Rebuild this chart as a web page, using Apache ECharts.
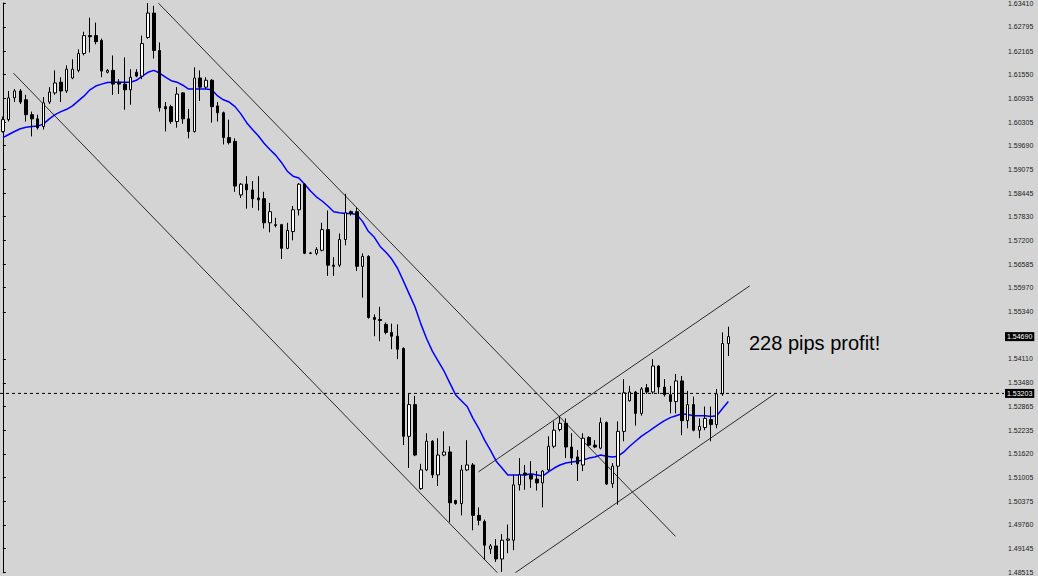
<!DOCTYPE html>
<html><head><meta charset="utf-8">
<script src="https://cdn.jsdelivr.net/npm/echarts@6/dist/echarts.min.js"></script>
<style>html,body{margin:0;padding:0;background:#d4d4d4}#c{width:1038px;height:576px}</style>
</head><body><div id="c"></div><script>
const opens=[1.6006,1.6037,1.6094,1.6112,1.6089,1.6050,1.6039,1.6019,1.6083,1.6107,
1.6135,1.6112,1.6146,1.6166,1.6210,1.6257,1.6257,1.6244,1.6161,1.6166,
1.6135,1.6130,1.6115,1.6161,1.6151,1.6252,1.6316,1.6218,1.6071,1.6071,
1.6032,1.6107,1.6039,1.6006,1.6146,1.6122,1.6140,1.6073,1.6055,1.5990,
1.5980,1.5840,1.5868,1.5853,1.5832,1.5830,1.5767,1.5762,1.5762,1.5700,
1.5744,1.5801,1.5868,1.5687,1.5687,1.5695,1.5749,1.5656,1.5656,1.5723,
1.5796,1.5796,1.5653,1.5679,1.5519,1.5514,1.5501,1.5480,1.5470,1.5438,
1.5208,1.5291,1.5071,1.5120,1.5195,1.5107,1.5159,1.5167,1.5040,1.5032,
1.5120,1.5133,1.5001,1.4985,1.4913,1.4921,1.4887,1.4936,1.4936,1.5081,
1.5112,1.5107,1.5096,1.5086,1.5120,1.5182,1.5226,1.5242,1.5180,1.5154,
1.5133,1.5205,1.5185,1.5177,1.5244,1.5084,1.5130,1.5221,1.5301,1.5324,
1.5268,1.5335,1.5324,1.5392,1.5337,1.5317,1.5299,1.5353,1.5249,1.5291,
1.5224,1.5231,1.5252,1.5239,1.5319,1.5451];
const closes=[1.6037,1.6094,1.6112,1.6083,1.6050,1.6039,1.6016,1.6081,1.6109,1.6133,
1.6112,1.6169,1.6169,1.6210,1.6257,1.6254,1.6241,1.6164,1.6166,1.6130,
1.6130,1.6115,1.6148,1.6151,1.6236,1.6316,1.6218,1.6068,1.6065,1.6032,
1.6104,1.6039,1.6006,1.6146,1.6122,1.6140,1.6071,1.6055,1.5990,1.5977,
1.5863,1.5868,1.5853,1.5830,1.5827,1.5767,1.5796,1.5760,1.5700,1.5747,
1.5801,1.5868,1.5687,1.5688,1.5697,1.5749,1.5656,1.5653,1.5723,1.5793,
1.5791,1.5653,1.5679,1.5519,1.5514,1.5511,1.5480,1.5470,1.5436,1.5208,
1.5291,1.5159,1.5120,1.5195,1.5107,1.5159,1.5167,1.5034,1.5032,1.5120,
1.5133,1.5001,1.4988,1.4923,1.4921,1.4887,1.4936,1.4939,1.5081,1.5107,
1.5107,1.5096,1.5086,1.5117,1.5182,1.5224,1.5242,1.5180,1.5151,1.5136,
1.5203,1.5185,1.5180,1.5244,1.5083,1.5130,1.5221,1.5322,1.5324,1.5268,
1.5332,1.5324,1.5392,1.5337,1.5317,1.5299,1.5353,1.5249,1.5291,1.5224,
1.5234,1.5255,1.5239,1.5319,1.5451,1.5469];
const highs=[1.6045,1.6112,1.6117,1.6117,1.6102,1.6058,1.6050,1.6096,1.6122,1.6166,
1.6148,1.6179,1.6195,1.6221,1.6267,1.6304,1.6291,1.6249,1.6169,1.6205,
1.6143,1.6200,1.6169,1.6169,1.6257,1.6342,1.6335,1.6239,1.6083,1.6076,
1.6122,1.6109,1.6065,1.6174,1.6166,1.6148,1.6143,1.6083,1.6058,1.6037,
1.5988,1.5871,1.5889,1.5876,1.5889,1.5848,1.5819,1.5780,1.5764,1.5767,
1.5811,1.5871,1.5871,1.5690,1.5703,1.5767,1.5799,1.5677,1.5739,1.5843,
1.5799,1.5806,1.5687,1.5682,1.5527,1.5547,1.5506,1.5503,1.5501,1.5441,
1.5319,1.5314,1.5136,1.5216,1.5198,1.5203,1.5221,1.5182,1.5042,1.5133,
1.5198,1.5138,1.5022,1.4990,1.4926,1.4939,1.4952,1.4977,1.5107,1.5151,
1.5133,1.5143,1.5117,1.5120,1.5208,1.5247,1.5260,1.5255,1.5216,1.5172,
1.5216,1.5208,1.5198,1.5257,1.5247,1.5138,1.5247,1.5358,1.5340,1.5327,
1.5337,1.5345,1.5410,1.5394,1.5358,1.5340,1.5371,1.5366,1.5327,1.5312,
1.5255,1.5286,1.5286,1.5332,1.5480,1.5495];
const lows=[1.6003,1.6032,1.6083,1.6078,1.6032,1.5993,1.6011,1.6011,1.6078,1.6102,
1.6083,1.6107,1.6143,1.6161,1.6205,1.6213,1.6234,1.6148,1.6158,1.6102,
1.6104,1.6063,1.6076,1.6148,1.6143,1.6249,1.6197,1.6058,1.6006,1.6026,
1.6016,1.6026,1.5988,1.6003,1.6086,1.6117,1.6029,1.6032,1.5972,1.5972,
1.5848,1.5832,1.5804,1.5806,1.5799,1.5752,1.5742,1.5755,1.5672,1.5698,
1.5721,1.5786,1.5685,1.5685,1.5682,1.5692,1.5628,1.5628,1.5651,1.5708,
1.5786,1.5641,1.5571,1.5516,1.5470,1.5457,1.5475,1.5436,1.5410,1.5185,
1.5125,1.5156,1.5068,1.5117,1.5099,1.5078,1.5156,1.4983,1.5029,1.5001,
1.5117,1.4962,1.4975,1.4884,1.4900,1.4879,1.4853,1.4902,1.4910,1.5066,
1.5068,1.5073,1.5066,1.5022,1.5117,1.5177,1.5221,1.5151,1.5133,1.5091,
1.5117,1.5182,1.5177,1.5174,1.5081,1.5073,1.5029,1.5195,1.5299,1.5236,
1.5262,1.5319,1.5319,1.5319,1.5312,1.5268,1.5268,1.5211,1.5229,1.5221,
1.5203,1.5224,1.5195,1.5229,1.5314,1.5418];
const maValues=[1.5990,1.5998,1.6006,1.6013,1.6017,1.6019,1.6020,1.6026,1.6039,1.6050,
1.6058,1.6064,1.6073,1.6086,1.6099,1.6115,1.6125,1.6130,1.6134,1.6135,
1.6135,1.6135,1.6135,1.6140,1.6151,1.6161,1.6166,1.6159,1.6148,1.6139,
1.6135,1.6127,1.6117,1.6117,1.6117,1.6117,1.6115,1.6099,1.6089,1.6083,
1.6071,1.6052,1.6029,1.6011,1.5995,1.5975,1.5959,1.5944,1.5925,1.5902,
1.5889,1.5884,1.5868,1.5850,1.5835,1.5824,1.5811,1.5796,1.5793,1.5791,
1.5791,1.5788,1.5770,1.5744,1.5729,1.5705,1.5690,1.5672,1.5648,1.5615,
1.5581,1.5547,1.5503,1.5464,1.5431,1.5405,1.5379,1.5348,1.5317,1.5301,
1.5286,1.5255,1.5229,1.5198,1.5172,1.5143,1.5125,1.5107,1.5107,1.5107,
1.5107,1.5110,1.5107,1.5104,1.5115,1.5125,1.5133,1.5138,1.5141,1.5143,
1.5146,1.5151,1.5154,1.5159,1.5156,1.5154,1.5156,1.5167,1.5182,1.5195,
1.5208,1.5218,1.5229,1.5239,1.5249,1.5257,1.5262,1.5267,1.5265,1.5262,
1.5262,1.5262,1.5260,1.5262,1.5281,1.5299];
const yTickValues=[1.63410,1.62795,1.62165,1.61550,1.60935,1.60305,1.59690,1.59075,1.58445,
1.57830,1.57200,1.56585,1.55970,1.55340,1.54110,1.53480,1.52865,1.52235,1.51620,
1.51005,1.50375,1.49760,1.49145,1.48515];
const bidPrice=1.54690;
const dottedPrice=1.53203;
// trend lines: [barIndex, price] end points
const downUpper=[[26.8,1.6342],[115.9,1.4946]];
const downLower=[[1.8,1.6159],[85.2,1.4851]];
const upUpper=[[81.95,1.5115],[128.7,1.5602]];
const upLower=[[88.3,1.4851],[133.0,1.5319]];
const annotation='228 pips profit!';

const N_SLOTS=173;
const X_MIN=-0.5, X_MAX=N_SLOTS-0.5;
const categories=Array.from({length:N_SLOTS},(_,i)=>String(i));
const candleData=opens.map((o,i)=>[o,closes[i],lows[i],highs[i]]);
const trendStyle={color:'#2a2a2a',width:1};
function trend(d){return {type:'line',xAxisIndex:1,yAxisIndex:0,data:d,symbol:'none',silent:true,lineStyle:trendStyle,z:1};}
function priceLine(p,lineStyle){
  return {type:'line',xAxisIndex:1,yAxisIndex:0,data:[[X_MIN,p],[X_MAX,p]],symbol:'none',silent:true,clip:false,z:5,
    lineStyle:lineStyle,
    endLabel:{show:true,formatter:p.toFixed(5),distance:1,backgroundColor:'#000',color:'#fff',fontSize:7,
      fontFamily:'Liberation Sans',padding:[1,2,1,2],align:'left',verticalAlign:'middle'}};
}
const chart=echarts.init(document.getElementById('c'),null,{renderer:'svg'});
chart.setOption({
  backgroundColor:'#d4d4d4',
  animation:false,
  grid:{left:-1.4,right:34,top:0,bottom:0},
  xAxis:[
    {type:'category',data:categories,show:false,boundaryGap:true},
    {type:'value',min:X_MIN,max:X_MAX,show:false}
  ],
  yAxis:{type:'value',position:'right',min:1.48507,max:1.63424,
    splitLine:{show:false},
    axisLine:{show:true,lineStyle:{color:'#000',width:1}},
    axisTick:{show:true,length:3,customValues:yTickValues,lineStyle:{color:'#000'}},
    axisLabel:{customValues:yTickValues,formatter:v=>v.toFixed(5),fontSize:7,color:'#222',margin:4,fontFamily:'Liberation Sans'}
  },
  series:[
    trend(downUpper),trend(downLower),trend(upUpper),trend(upLower),
    {type:'line',data:maValues,symbol:'none',silent:true,lineStyle:{color:'#0000ff',width:1.5},z:3},
    {type:'candlestick',data:candleData,barWidth:3,z:4,
      itemStyle:{color:'#ffffff',color0:'#000000',borderColor:'#000',borderColor0:'#000',borderColorDoji:'#000',borderWidth:1}
    },
    priceLine(dottedPrice,{color:'#000',type:[3,3],width:1}),
    priceLine(bidPrice,{color:'rgba(0,0,0,0)',width:1})
  ],
  graphic:[{type:'text',left:749,top:333,style:{text:annotation,font:'20px "Liberation Sans"',fill:'#000'}}]
});
</script></body></html>
